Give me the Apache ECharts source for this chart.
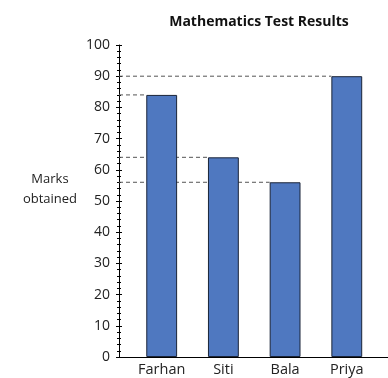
<!DOCTYPE html>
<html>
<head>
<meta charset="utf-8">
<script src="https://cdn.jsdelivr.net/npm/echarts@6/dist/echarts.min.js"></script>
<style>
  html, body { margin: 0; padding: 0; background: #fff; }
  #chart { width: 388px; height: 378px; }
</style>
</head>
<body>
<div id="chart"></div>
<script>
// Test scores per student
const students = ['Farhan', 'Siti', 'Bala', 'Priya'];
const marks = [84, 64, 56, 90];

// Vertical scale
const yMin = 0;
const yMax = 100;
const yStep = 10;

// Horizontal extent in category-index units, and half of a bar's width in those units
const X_MIN = -0.692;
const X_MAX = 3.668;
const HALF_BAR = 0.25;

const FONT = 'Open Sans';

const chart = echarts.init(document.getElementById('chart'));

// Dashed guide from the y axis to the top-left corner of each bar
const guideSeries = marks.map((v, i) => ({
  type: 'line',
  z: 1,
  silent: true,
  symbol: 'none',
  data: [[X_MIN, v], [i - HALF_BAR, v]],
  lineStyle: { color: '#555', width: 1, type: [4, 3] }
}));

chart.setOption({
  animation: false,
  title: [
    {
      text: 'Mathematics Test Results',
      left: 254, top: 10, textAlign: 'center',
      textStyle: { fontFamily: FONT, fontSize: 14, fontWeight: 'bold', color: '#111' }
    },
    {
      text: 'Marks\nobtained',
      left: 45, top: 164, textAlign: 'center',
      textStyle: { fontFamily: FONT, fontSize: 13, fontWeight: 'normal', color: '#222', lineHeight: 20 }
    }
  ],
  grid: { left: 119, right: 0, top: 45, bottom: 21, containLabel: false },
  xAxis: {
    type: 'value',
    min: X_MIN, max: X_MAX,
    axisLine: { show: true, onZero: false, lineStyle: { color: '#000', width: 1 } },
    axisTick: { show: false },
    splitLine: { show: false },
    axisLabel: {
      customValues: students.map((_, i) => i),
      formatter: v => students[Math.round(v)] || '',
      margin: 5,
      fontFamily: FONT, fontSize: 14.5, color: '#222'
    }
  },
  yAxis: [
    {
      type: 'value', position: 'left',
      min: yMin, max: yMax, interval: yStep,
      axisLine: { show: true, onZero: false, lineStyle: { color: '#000', width: 1 } },
      axisTick: { show: true, length: 3, lineStyle: { color: '#000' } },
      minorTick: { show: true, splitNumber: 5, length: 2, lineStyle: { color: '#000' } },
      splitLine: { show: false },
      axisLabel: { margin: 9, fontFamily: FONT, fontSize: 14, color: '#222' }
    },
    {
      // inner half of the tick marks, so they cross the axis line
      type: 'value', position: 'left',
      min: yMin, max: yMax, interval: yStep,
      axisLine: { show: false, onZero: false },
      axisTick: { show: true, inside: true, length: 3, lineStyle: { color: '#000' } },
      minorTick: { show: true, splitNumber: 5, length: 2, lineStyle: { color: '#000' } },
      splitLine: { show: false },
      axisLabel: { show: false }
    }
  ],
  series: [
    ...guideSeries,
    {
      type: 'bar',
      z: 3,
      barWidth: '50%',
      data: marks.map((v, i) => [i, v]),
      itemStyle: { color: '#4f78c0', borderColor: '#1a2438', borderWidth: 1 }
    }
  ]
});
</script>
</body>
</html>
